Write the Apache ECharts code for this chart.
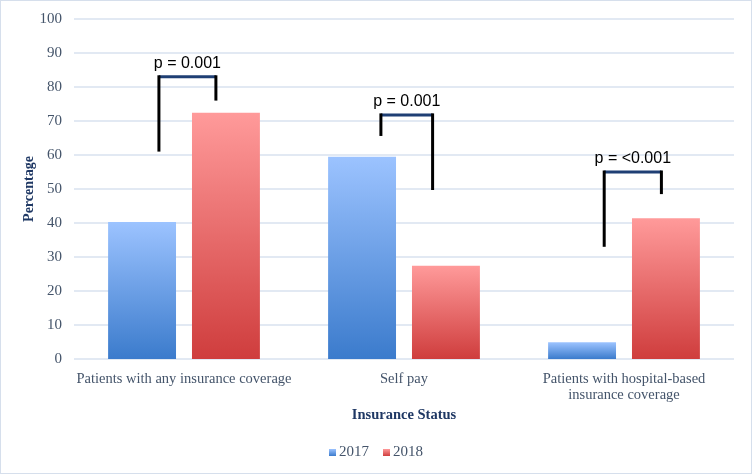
<!DOCTYPE html>
<html><head><meta charset="utf-8">
<script src="https://cdn.jsdelivr.net/npm/echarts@6/dist/echarts.min.js"></script>
<style>html,body{margin:0;padding:0;background:#fff}#c{width:752px;height:474px;box-sizing:border-box;border:1.5px solid #d6dfec}</style>
</head><body><div id="c"></div>
<script>
const categories = ['Patients with any insurance coverage', 'Self pay', 'Patients with hospital-based\ninsurance coverage'];
const values2017 = [40.3, 59.5, 4.9];
const values2018 = [72.4, 27.4, 41.4];
const yTicks = [0, 10, 20, 30, 40, 50, 60, 70, 80, 90, 100];
// significance brackets (values in % units)
const bracketLabels = ['p = 0.001', 'p = 0.001', 'p = <0.001'];
const bracketTop = [83, 71.8, 55];
const bracketLeftBottom = [61, 65.6, 33];
const bracketRightBottom = [76, 49.7, 48.5];
const bracketLeftOffset = [-0.114, -0.105, -0.09];
const bracketRightOffset = [0.145, 0.13, 0.17];

const serif = '"Liberation Serif", "DejaVu Serif", serif';
const labelColor = '#44546a';
const chart = echarts.init(document.getElementById('c'));
const grad = (top, bottom) => new echarts.graphic.LinearGradient(0, 0, 0, 1, [{offset: 0, color: top}, {offset: 1, color: bottom}]);

chart.setOption({
  animation: false,
  grid: {left: 73, right: 17, top: 18, bottom: 114},
  legend: {
    bottom: 8, left: 'center', itemWidth: 7, itemHeight: 7, itemGap: 14,
    icon: 'rect',
    textStyle: {fontFamily: serif, fontSize: 15, color: labelColor, padding: [0, 0, 0, -2]},
    data: ['2017', '2018']
  },
  xAxis: {
    type: 'category', data: categories,
    name: 'Insurance Status', nameLocation: 'middle', nameGap: 47,
    nameTextStyle: {fontFamily: serif, fontSize: 14.5, fontWeight: 'bold', color: '#1f3864'},
    axisLine: {show: false}, axisTick: {show: false},
    axisLabel: {interval: 0, fontFamily: serif, fontSize: 14.5, color: labelColor, margin: 12, lineHeight: 16}
  },
  yAxis: {
    type: 'value', min: 0, max: 100, interval: 10,
    name: 'Percentage', nameLocation: 'middle', nameGap: 38, nameMoveOverlap: false,
    nameTextStyle: {fontFamily: serif, fontSize: 14, fontWeight: 'bold', color: '#1f3864'},
    axisLine: {show: false}, axisTick: {show: false},
    axisLabel: {fontFamily: serif, fontSize: 15, color: labelColor, margin: 12,
      formatter: v => yTicks.includes(v) ? String(v) : ''},
    splitLine: {lineStyle: {color: '#d9e2ef', width: 1.5}}
  },
  series: [
    {name: '2017', type: 'bar', data: values2017, barGap: '23.5%', barCategoryGap: '31%',
     itemStyle: {color: grad('#9cc3ff', '#3b7bcc')}},
    {name: '2018', type: 'bar', data: values2018,
     itemStyle: {color: grad('#ff9a9a', '#cf3d3d')}},
    {name: 'brackets', type: 'custom', silent: true, z: 10,
     data: categories.map((c, i) => [i, bracketTop[i], bracketLeftBottom[i], bracketRightBottom[i]]),
     renderItem: (params, api) => {
       const i = api.value(0);
       const band = api.size([1, 0])[0];
       const center = api.coord([i, 0])[0];
       const xl = center + bracketLeftOffset[i] * band;
       const xr = center + bracketRightOffset[i] * band;
       const yt = api.coord([i, api.value(1)])[1];
       const yl = api.coord([i, api.value(2)])[1];
       const yr = api.coord([i, api.value(3)])[1];
       return {type: 'group', children: [
         {type: 'line', shape: {x1: xl, y1: yt, x2: xr, y2: yt}, style: {stroke: '#1f3f74', lineWidth: 3}},
         {type: 'line', shape: {x1: xl, y1: yt - 1.5, x2: xl, y2: yl}, style: {stroke: '#000', lineWidth: 3}},
         {type: 'line', shape: {x1: xr, y1: yt - 1.5, x2: xr, y2: yr}, style: {stroke: '#000', lineWidth: 3}},
         {type: 'text', x: (xl + xr) / 2, y: yt - 5, style: {text: bracketLabels[i], align: 'center', verticalAlign: 'bottom',
           fontFamily: '"Liberation Sans", "DejaVu Sans", sans-serif', fontSize: 16, fill: '#000'}}
       ]};
     }}
  ]
});
</script></body></html>
